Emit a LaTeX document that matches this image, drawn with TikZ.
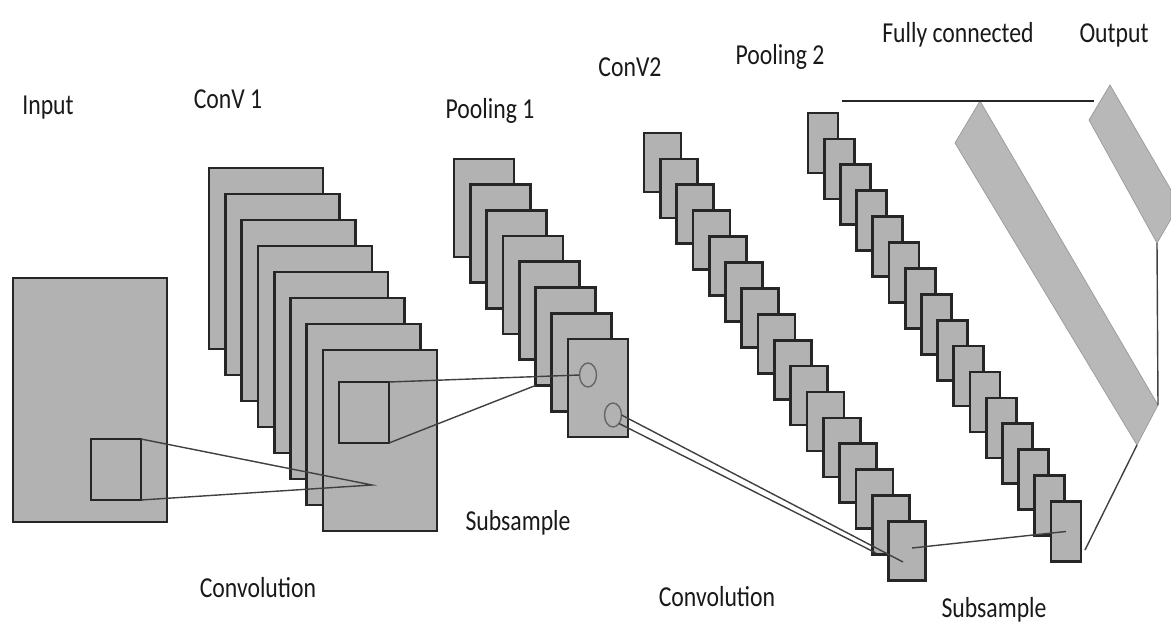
\documentclass[tikz,border=0pt]{standalone}
\usepackage{fontspec}
\setmainfont{Carlito}
\usetikzlibrary{shapes.geometric}

\newcommand{\tallbox}[1]{\scalebox{1}[1.22]{#1}}

\begin{document}
\begin{tikzpicture}[x=0.02cm, y=-0.02cm]
  \tikzset{fmap/.style={rectangle, draw=black!85, line width=1.5pt, fill=black!30, inner sep=0pt, outer sep=0pt, anchor=north west},
    win/.style={rectangle, draw=black!85, line width=1.5pt, inner sep=0pt, outer sep=0pt, minimum width=1cm, minimum height=1.22cm, anchor=north west},
    spot/.style={ellipse, draw=black!60, line width=0.8pt, inner sep=0pt, outer sep=0pt, minimum width=0.34cm, minimum height=0.48cm},
    band/.style={draw=black!40, line width=0.4pt, fill=black!28},
    link/.style={draw=black!75, line width=0.8pt},
    lbl/.style={font=\fontsize{13.5}{16}\selectfont, text=black!90, anchor=base}}
  \useasboundingbox (0,0) rectangle (1171,626);
  % input
  \node[fmap, minimum width=3.08cm, minimum height=4.88cm] (in) at (13,278) {};
  \node[win] (w0) at (91,439) {};
  % conv 1
  \foreach \i in {1,...,8}
    \node[fmap, minimum width=2.28cm, minimum height=3.62cm] (c1-\i) at ({209+16.3*(\i-1)},{168+26*(\i-1)}) {};
  \node[win] (w1) at (339,382) {};
  \coordinate (f1) at (372,485);
  \draw[link] (w0.north east) -- (f1) -- (w0.south east);
  % pooling 1
  \foreach \i in {1,...,8}
    \node[fmap, minimum width=1.2cm, minimum height=1.96cm] (p1-\i) at ({454+16.3*(\i-1)},{159+25.7*(\i-1)}) {};
  \node[spot] (o1) at (588,375) {};
  \node[spot] (o2) at (613,415) {};
  \draw[link] (w1.north east) -- (o1.west);
  \draw[link] (w1.south east) -- (p1-6.south west);
  % conv 2
  \foreach \i in {1,...,16}
    \node[fmap, minimum width=0.74cm, minimum height=1.18cm] (c2-\i) at ({644+16.3*(\i-1)},{133+25.9*(\i-1)}) {};
  \coordinate (f2) at (903,562);
  \coordinate (f2b) at (876,553);
  \draw[link] (o2.east) -- (f2);
  \draw[link] (o2.south east) -- (f2b);
  % pooling 2
  \foreach \i in {1,...,16}
    \node[fmap, minimum width=0.6cm, minimum height=1.2cm] (p2-\i) at ({808+16.2*(\i-1)},{113+25.9*(\i-1)}) {};
  \coordinate (f3) at (912,548);
  \draw[link] (f3) -- (p2-16.center);
  % fully connected and output
  \coordinate (fc-l) at (955,143);
  \coordinate (fc-t) at (980,101);
  \coordinate (fc-r) at (1158,405);
  \coordinate (fc-b) at (1137,445);
  \draw[band] (fc-l) -- (fc-t) -- (fc-r) -- (fc-b) -- cycle;
  \coordinate (bar-l) at (842,101);
  \coordinate (bar-r) at (1094,101);
  \draw[draw=black!85, line width=1.7pt] (bar-l) -- (bar-r);
  \coordinate (out-l) at (1089,120);
  \coordinate (out-t) at (1110,85);
  \coordinate (out-b) at (1157,243);
  \draw[band] (out-l) -- (out-t) -- (1171,190) -- (1171,219) -- (out-b) -- cycle;
  \draw[link] (out-b) -- (fc-r);
  \coordinate (f5) at (1085,550);
  \draw[link] (f5) -- (fc-b);
  % labels
  \node[lbl] (t-in) at (48,114) {\tallbox{Input}};
  \node[lbl] (t-c1) at (228,108) {\tallbox{ConV 1}};
  \node[lbl] (t-p1) at (490,118) {\tallbox{Pooling 1}};
  \node[lbl] (t-c2) at (630,76) {\tallbox{ConV2}};
  \node[lbl] (t-p2) at (780,64) {\tallbox{Pooling 2}};
  \node[lbl] (t-fc) at (958,42) {\tallbox{Fully connected}};
  \node[lbl] (t-out) at (1114,42) {\tallbox{Output}};
  \node[lbl] (t-conv1) at (258,597) {\tallbox{Convolution}};
  \node[lbl] (t-sub1) at (518,530) {\tallbox{Subsample}};
  \node[lbl] (t-conv2) at (717,606) {\tallbox{Convolution}};
  \node[lbl] (t-sub2) at (994,617) {\tallbox{Subsample}};
\end{tikzpicture}
\end{document}
